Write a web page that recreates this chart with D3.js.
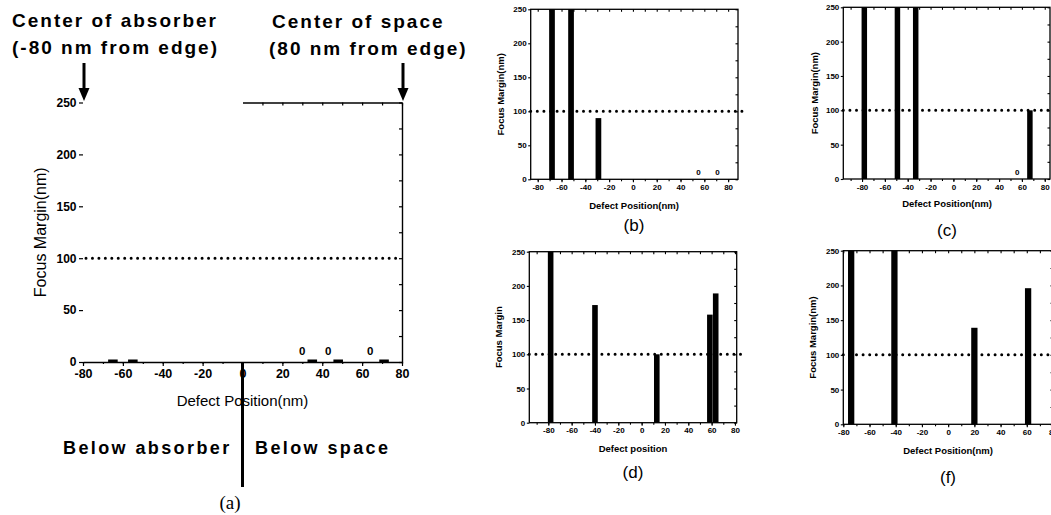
<!DOCTYPE html>
<html>
<head>
<meta charset="utf-8">
<script src="https://cdn.jsdelivr.net/npm/d3@7"></script>
<style>
  body { margin: 0; background: #fff; }
  svg { display: block; font-family: Arial, "Liberation Sans", sans-serif; }
</style>
</head>
<body>
<script>
// ── Data ─────────────────────────────────────────────
const ticksX = [-80, -60, -40, -20, 0, 20, 40, 60, 80];
const ticksY = [0, 50, 100, 150, 200, 250];
const threshold = 100;
const barW = 4.8; // nm

// (a) every defect position gives zero focus margin
const aPos = [-65, -55, 35, 48, 71];
const aVal = [0, 0, 0, 0, 0];
const aZeroLabels = [30, 43, 64];

const bPos = [-68, -52, -29, 55, 71];
const bVal = [250, 250, 90, 0, 0];

const cPos = [-78, -49, -33, 56, 67];
const cVal = [250, 250, 250, 0, 100];

const dPos = [-78, -40, 13, 58.5, 63.5];
const dVal = [250, 172, 100, 158, 189];

const fPos = [-74, -41, 20, 61];
const fVal = [250, 250, 139, 196];

const W = 1051, H = 515;
const svg = d3.select('body').append('svg').attr('width', W).attr('height', H);

const minor = d3.range(-90, 91, 10);
const fmt = d => String(d); // plain hyphen minus, as in the scan

// ── Small panels (b, c, d, f) ────────────────────────
function drawPanel(p) {
  const x = d3.scaleLinear().domain(p.xDomain).range([p.left, p.right]);
  const y = d3.scaleLinear().domain([0, 250]).range([p.bottom, p.top]).clamp(true);
  const g = svg.append('g');
  const rows = p.pos.map((v, i) => ({ pos: v, val: p.val[i] }));

  g.selectAll('rect.bar').data(rows.filter(d => d.val > 0)).join('rect')
    .attr('class', 'bar')
    .attr('x', d => x(d.pos - barW / 2))
    .attr('width', d => x(d.pos + barW / 2) - x(d.pos - barW / 2))
    .attr('y', d => y(d.val))
    .attr('height', d => y(0) - y(d.val))
    .attr('fill', '#000');

  g.selectAll('text.zero').data(rows.filter(d => d.val === 0)).join('text')
    .attr('class', 'zero')
    .attr('x', d => x(d.pos)).attr('y', y(0) - 4)
    .attr('text-anchor', 'middle')
    .attr('font-size', 8).attr('font-weight', 'bold')
    .text('0');

  // threshold
  g.append('line')
    .attr('x1', p.left).attr('x2', p.right + 4)
    .attr('y1', y(threshold)).attr('y2', y(threshold))
    .attr('stroke', '#000').attr('stroke-width', 3)
    .attr('stroke-linecap', 'round').attr('stroke-dasharray', '0,6.6');

  const inX = minor.filter(v => v >= p.xDomain[0] && v <= p.xDomain[1]);
  const minY = d3.range(0, 251, 25);

  const bot = g.append('g').attr('transform', `translate(0,${p.bottom})`)
    .call(d3.axisBottom(x).tickValues(ticksX).tickFormat(fmt)
      .tickSizeInner(3).tickSizeOuter(0).tickPadding(2));
  g.append('g').attr('transform', `translate(0,${p.bottom})`)
    .call(d3.axisBottom(x).tickValues(inX).tickSize(2).tickFormat(''));
  g.append('g').attr('transform', `translate(0,${p.top})`)
    .call(d3.axisTop(x).tickValues(inX).tickSize(-2.5).tickFormat(''));
  const left = g.append('g').attr('transform', `translate(${p.left},0)`)
    .call(d3.axisLeft(y).tickValues(ticksY).tickFormat(fmt)
      .tickSizeInner(2.5).tickSizeOuter(0).tickPadding(1.5));
  g.append('g').attr('transform', `translate(${p.right},0)`)
    .call(d3.axisRight(y).tickValues(minY).tickSize(-2.5).tickFormat(''));

  g.selectAll('.domain').remove();
  g.selectAll('.tick line').attr('stroke', '#000').attr('stroke-width', 1.1);
  [bot, left].forEach(a => a.selectAll('text')
    .attr('font-size', 8).attr('font-weight', 'bold').attr('fill', '#000')
    .attr('font-family', 'Arial, "Liberation Sans", sans-serif'));

  g.append('rect')
    .attr('x', p.left).attr('y', p.top)
    .attr('width', p.right - p.left).attr('height', p.bottom - p.top)
    .attr('fill', 'none').attr('stroke', '#000').attr('stroke-width', 1.3);

  g.append('text')
    .attr('transform', `translate(${p.ylabX},${(p.top + p.bottom) / 2}) rotate(-90)`)
    .attr('text-anchor', 'middle').attr('dy', '0.35em')
    .attr('font-size', 9.5).attr('font-weight', 'bold')
    .text(p.ylab);
  g.append('text')
    .attr('x', p.labCx).attr('y', p.xlabY)
    .attr('text-anchor', 'middle')
    .attr('font-size', 9.5).attr('font-weight', 'bold')
    .text(p.xlab);
  g.append('text')
    .attr('x', p.labCx).attr('y', p.capY)
    .attr('text-anchor', 'middle')
    .attr('font-size', 17)
    .text(p.cap);
}

drawPanel({ left: 530.7, right: 738, top: 9.3, bottom: 179.3, xDomain: [-85.9, 88.3],
  pos: bPos, val: bVal, ylab: 'Focus Margin(nm)', xlab: 'Defect Position(nm)', cap: '(b)',
  ylabX: 501, labCx: 634, xlabY: 209, capY: 231 });
drawPanel({ left: 843.3, right: 1050, top: 7.3, bottom: 179, xDomain: [-96.4, 84.6],
  pos: cPos, val: cVal, ylab: 'Focus Margin(nm)', xlab: 'Defect Position(nm)', cap: '(c)',
  ylabX: 815, labCx: 947, xlabY: 207, capY: 236 });
drawPanel({ left: 529.3, right: 736.7, top: 251.7, bottom: 422.7, xDomain: [-96.3, 81.5],
  pos: dPos, val: dVal, ylab: 'Focus Margin', xlab: 'Defect position', cap: '(d)',
  ylabX: 499, labCx: 633, xlabY: 452, capY: 478 });
drawPanel({ left: 843.3, right: 1053, top: 250.7, bottom: 424.3, xDomain: [-80, 80],
  pos: fPos, val: fVal, ylab: 'Focus Margin(nm)', xlab: 'Defect Position(nm)', cap: '(f)',
  ylabX: 813, labCx: 948, xlabY: 454, capY: 483 });

// ── Panel (a) ────────────────────────────────────────
(function () {
  const x = d3.scaleLinear().domain([-80, 80]).range([83, 402]);
  const y = d3.scaleLinear().domain([0, 250]).range([362, 102.5]);
  const g = svg.append('g');

  // dotted threshold
  g.append('line')
    .attr('x1', x(-80) + 3).attr('x2', x(80))
    .attr('y1', y(threshold)).attr('y2', y(threshold))
    .attr('stroke', '#000').attr('stroke-width', 3)
    .attr('stroke-linecap', 'round').attr('stroke-dasharray', '0,6.45');

  // zero-height bars
  g.selectAll('rect.bar').data(aPos.map((v, i) => ({ pos: v, val: aVal[i] }))).join('rect')
    .attr('x', d => x(d.pos - barW / 2))
    .attr('width', d => x(d.pos + barW / 2) - x(d.pos - barW / 2))
    .attr('y', d => Math.min(y(d.val), y(0) - 2.5))
    .attr('height', d => Math.max(2.5, y(0) - y(d.val)))
    .attr('fill', '#000');

  g.selectAll('text.zero').data(aZeroLabels).join('text')
    .attr('x', d => x(d)).attr('y', y(0) - 7.5)
    .attr('text-anchor', 'middle')
    .attr('font-size', 11.5).attr('font-weight', 'bold')
    .text('0');

  const tickTxt = (s, size) => s.selectAll('text')
    .attr('font-size', size).attr('font-weight', 'bold').attr('fill', '#000')
    .attr('font-family', 'Arial, "Liberation Sans", sans-serif');

  const bot = g.append('g').attr('transform', `translate(0,${y(0)})`)
    .call(d3.axisBottom(x).tickValues(ticksX).tickFormat(fmt)
      .tickSizeInner(4).tickSizeOuter(0).tickPadding(3));
  bot.select('.domain').attr('stroke-width', 1.6);
  tickTxt(bot, 12.5);
  g.append('g').attr('transform', `translate(0,${y(0)})`)
    .call(d3.axisBottom(x).tickValues(minor.filter(v => Math.abs(v) <= 80)).tickSize(2).tickFormat(''))
    .select('.domain').remove();

  const left = g.append('g').attr('transform', `translate(${x(-80)},0)`)
    .call(d3.axisLeft(y).tickValues(ticksY).tickFormat(fmt)
      .tickSizeInner(4).tickSizeOuter(0).tickPadding(2.5));
  left.select('.domain').remove();
  tickTxt(left, 12);

  // partial top frame (0..80) and right frame
  const top = g.append('g').attr('transform', `translate(0,${y(250)})`)
    .call(d3.axisTop(x.copy().domain([0, 80]).range([x(0), x(80)]))
      .tickValues(d3.range(10, 81, 10)).tickSizeInner(-3).tickSizeOuter(0).tickFormat(''));
  top.select('.domain').attr('stroke-width', 1.4);
  const right = g.append('g').attr('transform', `translate(${x(80)},0)`)
    .call(d3.axisRight(y).tickValues(d3.range(0, 251, 25)).tickSizeInner(-3).tickSizeOuter(0).tickFormat(''));
  right.select('.domain').attr('stroke-width', 1.4);
  g.selectAll('.tick line').attr('stroke', '#000').attr('stroke-width', 1.2);

  // axis titles
  g.append('text')
    .attr('transform', `translate(40,${(y(0) + y(250)) / 2}) rotate(-90)`)
    .attr('text-anchor', 'middle').attr('dy', '0.35em')
    .attr('font-size', 16)
    .text('Focus Margin(nm)');
  g.append('text')
    .attr('x', x(0)).attr('y', 406)
    .attr('text-anchor', 'middle')
    .attr('font-size', 15)
    .text('Defect Position(nm)');

  // divider at 0 nm
  g.append('line')
    .attr('x1', x(0)).attr('x2', x(0))
    .attr('y1', y(0)).attr('y2', 487)
    .attr('stroke', '#000').attr('stroke-width', 3);

  // arrows to the edges of the range
  [-80, 80].forEach(v => {
    const ax = x(v) + 1;
    g.append('line').attr('x1', ax).attr('x2', ax).attr('y1', 63).attr('y2', 90)
      .attr('stroke', '#000').attr('stroke-width', 3);
    g.append('path')
      .attr('d', `M${ax - 5.5},88L${ax + 5.5},88L${ax},101Z`)
      .attr('fill', '#000');
  });

  const big = (tx, ty, s, size, sp) => g.append('text')
    .attr('x', tx).attr('y', ty)
    .attr('font-size', size).attr('font-weight', 'bold')
    .attr('letter-spacing', sp)
    .text(s);
  big(12, 27, 'Center of absorber', 19, 2);
  big(12, 54, '(-80 nm from edge)', 19, 2);
  big(272, 28, 'Center of space', 19, 2);
  big(269, 55, '(80 nm from edge)', 19, 2);
  big(63, 454, 'Below absorber', 18, 2.4);
  big(255, 454, 'Below space', 18, 2.4);

  g.append('text')
    .attr('x', 230).attr('y', 509)
    .attr('text-anchor', 'middle')
    .attr('font-family', '"Liberation Serif", "Times New Roman", serif')
    .attr('font-size', 19)
    .text('(a)');
})();
</script>
</body>
</html>
